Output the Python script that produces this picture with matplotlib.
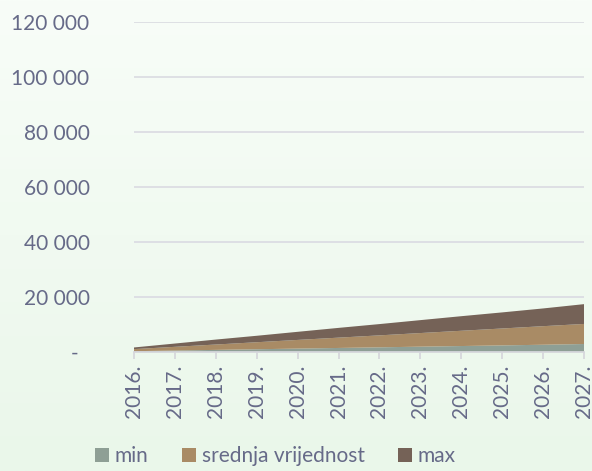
import numpy as np
import matplotlib.pyplot as plt
import matplotlib.transforms as mtransforms
from matplotlib.colors import LinearSegmentedColormap

years = ['2016.', '2017.', '2018.', '2019.', '2020.', '2021.',
         '2022.', '2023.', '2024.', '2025.', '2026.', '2027.']
v_min = [300, 530, 770, 1000, 1240, 1470, 1700, 1940, 2170, 2400, 2640, 2900]
v_sred = [750, 1350, 1950, 2550, 3150, 3750, 4350, 4950, 5550, 6150, 6750, 7300]
v_max = [600, 1200, 1800, 2350, 2950, 3550, 4100, 4700, 5300, 5850, 6450, 7200]
labels = ['min', 'srednja vrijednost', 'max']
colors = ['#8E9F95', '#A98B65', '#756257']
yticks = [0, 20000, 40000, 60000, 80000, 100000, 120000]
ytick_labels = ['-', '20 000', '40 000', '60 000', '80 000', '100 000', '120 000']

plt.rcParams['font.family'] = ['Lato', 'DejaVu Sans']
txt = '#666a88'

fig = plt.figure(figsize=(5.92, 4.71), dpi=100)

# pozadina s gradijentom
bg = fig.add_axes([0, 0, 1, 1], zorder=-10)
cmap = LinearSegmentedColormap.from_list('bg', ['#F8FDF8', '#EAF7EA'])
bg.imshow(np.linspace(0, 1, 256).reshape(-1, 1), aspect='auto', cmap=cmap,
          extent=[0, 1, 0, 1])
bg.axis('off')

ax = fig.add_axes([134 / 592, 1 - 352 / 471, 450 / 592, 330 / 471])
ax.set_facecolor('none')
x = np.arange(len(years))
ax.stackplot(x, v_min, v_sred, v_max, labels=labels, colors=colors, zorder=3)

ax.set_xlim(0, len(years) - 1)
ax.set_ylim(0, 120000)
ax.set_yticks(yticks)
ax.set_yticklabels(ytick_labels)
ax.set_xticks(x)
ax.set_xticklabels(years, rotation=90)
ax.grid(axis='y', color='#DCDDE3', linewidth=1.3, zorder=0)
for s in ['top', 'right', 'left']:
    ax.spines[s].set_visible(False)
ax.spines['bottom'].set_color('#D6D7DC')
ax.spines['bottom'].set_linewidth(1.3)
ax.spines['bottom'].set_zorder(4)
ax.tick_params(axis='y', length=0, pad=32, labelsize=15, labelcolor=txt)
ax.tick_params(axis='x', length=5, color='#D6D7DC', width=1.3, pad=4,
               labelsize=15, labelcolor=txt)
ylabs = ax.get_yticklabels()
for lab in ylabs:
    lab.set_horizontalalignment('right')
# nula kao crtica, pomaknuta ulijevo kao u Excelu
ylabs[0].set_transform(ylabs[0].get_transform() +
                       mtransforms.ScaledTranslation(-8 / 72, 0, fig.dpi_scale_trans))

leg = fig.legend(loc='lower center', bbox_to_anchor=(0.465, -0.03), ncol=3,
                 frameon=False, fontsize=15, handlelength=0.7, handleheight=0.7,
                 handletextpad=0.25, columnspacing=1.6, labelcolor=txt)

fig.savefig('out.png', dpi=100)
